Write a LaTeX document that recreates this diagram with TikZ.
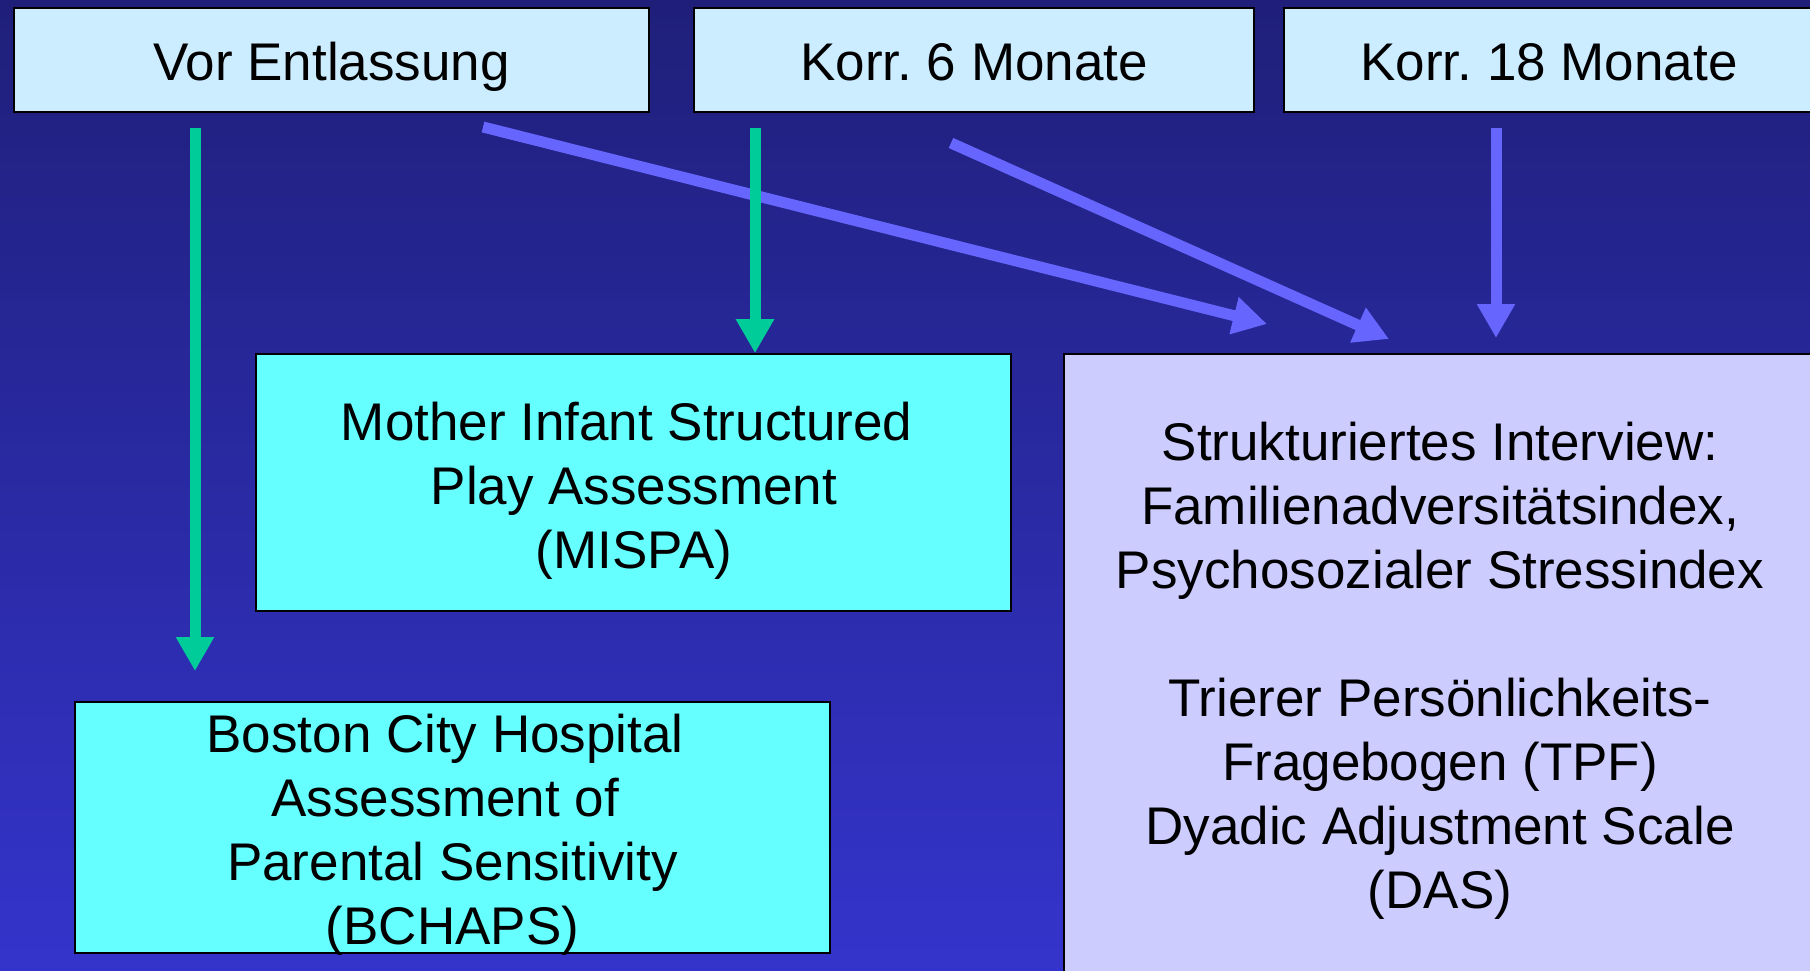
\documentclass[tikz,border=0pt]{standalone}
\usepackage{fontspec}
\setmainfont{Liberation Sans}
\usetikzlibrary{arrows.meta}
\definecolor{bgtop}{HTML}{1F1F7A}
\definecolor{bgbot}{HTML}{3434CC}
\definecolor{topfill}{HTML}{CCECFF}
\definecolor{cyanfill}{HTML}{66FFFF}
\definecolor{lavfill}{HTML}{CCCCFF}
\definecolor{arrgreen}{HTML}{00CC99}
\definecolor{arrblue}{HTML}{6666FF}
\newcommand{\trailsp}{\rule{0.278em}{0pt}}
\begin{document}
\frenchspacing
\begin{tikzpicture}[x=1pt,y=-1pt,
  txt/.style={inner sep=0pt, align=center, font=\fontsize{53}{64}\selectfont, text=black},
  boxbase/.style={draw=black, line width=1.6pt, inner sep=0pt},
  topbox/.style={boxbase, txt, fill=topfill, minimum height=104pt, text height=41pt, text depth=0pt},
  cyanbox/.style={boxbase, fill=cyanfill},
  lavbox/.style={boxbase, fill=lavfill},
  garrow/.style={draw=arrgreen, line width=11pt, -{Triangle[length=34pt,width=36pt]}},
  barrow/.style={draw=arrblue, line width=11pt, -{Triangle[length=34pt,width=36pt]}}]
\useasboundingbox (0,0) rectangle (1810,971);
\clip (0,0) rectangle (1810,971);
\shade[top color=bgtop, bottom color=bgbot] (0,0) rectangle (1810,971);

% top boxes
\node[topbox, minimum width=635pt] (vor) at (331.5,60) {Vor Entlassung};
\node[topbox, minimum width=560pt] (k6) at (974,60) {Korr. 6 Monate};
\node[topbox, minimum width=530pt] (k18) at (1549,60) {Korr. 18 Monate};

% lower boxes
\node[cyanbox, minimum width=755pt, minimum height=257pt] (mispa) at (633.5,482.5) {};
\node[txt] (mispatext) at (634,490.5)
  {Mother Infant Structured\trailsp\\Play Assessment\\(MISPA)};
\node[cyanbox, minimum width=755pt, minimum height=251pt] (bchaps) at (452.5,827.5) {};
\node[txt] (bchapstext) at (452.5,834.5)
  {Boston City Hospital\trailsp\\Assessment of\trailsp\\Parental Sensitivity\\(BCHAPS)};
\node[lavbox, minimum width=752pt, minimum height=624pt] (interview) at (1440,666) {};
\node[txt] (interviewtext) at (1440,671)
  {Strukturiertes Interview:\\Familienadversitätsindex,\\Psychosozialer Stressindex\\[64pt]Trierer Persönlichkeits-\\Fragebogen (TPF)\\Dyadic Adjustment Scale\\(DAS)};

% arrow end points
\coordinate (g1s) at (195,128);
\coordinate (g1e) at (195,671);
\coordinate (g2s) at (755,128);
\coordinate (b1s) at (483,127);
\coordinate (b1e) at (1267,324);
\coordinate (b2s) at (951,143);
\coordinate (b2e) at (1389,339);
\coordinate (b3s) at (1496,128);
\coordinate (b3e) at (1496,338);

% arrows
\draw[garrow] (g1s) -- (g1e);
\draw[barrow] (b1s) -- (b1e);
\draw[garrow] (g2s) -- (g2s |- mispa.north);
\draw[barrow] (b2s) -- (b2e);
\draw[barrow] (b3s) -- (b3e);
\end{tikzpicture}
\end{document}
